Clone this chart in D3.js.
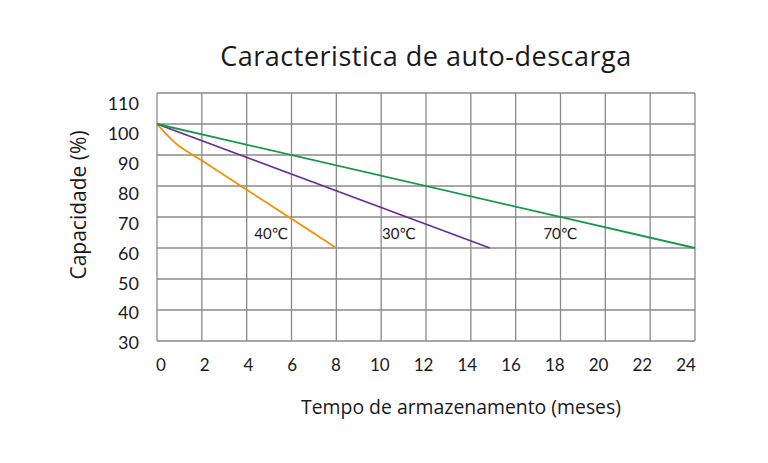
<!DOCTYPE html>
<html>
<head>
<meta charset="utf-8">
<script src="https://cdn.jsdelivr.net/npm/d3@7"></script>
<style>
    body { margin: 0; background: #fff; }
    text { font-family: "Lato", "DejaVu Sans", sans-serif; fill: #1a1a1a; }
    .title { font-family: "Open Sans", "DejaVu Sans", sans-serif; }
</style>
</head>
<body>
<div id="chart_container"></div>
<script>
// values
var xTicks = [0, 2, 4, 6, 8, 10, 12, 14, 16, 18, 20, 22, 24];
var yTicks = [30, 40, 50, 60, 70, 80, 90, 100, 110];

var months40 = [0, 0.25, 0.5, 1, 1.5, 2, 4, 6, 8];
var capacity40 = [100, 98, 96.1, 92.8, 90.5, 88.2, 78.8, 69.4, 60];
var months30 = [0, 14.85];
var capacity30 = [100, 60];
var months70 = [0, 24];
var capacity70 = [100, 60];

var seriesNames = ["40\u2103", "30\u2103", "70\u2103"];
var seriesColors = ["#f39200", "#6b2d8f", "#16984a"];
var labelMonths = [5.1, 10.8, 18.0];
var labelCapacity = [64.5, 64.5, 64.5];

function display_self_discharge() {
    var margin = {top: 93, right: 73, bottom: 122, left: 157},
        width = 768 - margin.left - margin.right,
        height = 463 - margin.top - margin.bottom;

    var x = d3.scaleLinear().domain([0, 24]).range([0, width]);
    var y = d3.scaleLinear().domain([30, 110]).range([height, 0]);
    // tick labels in the reference sit slightly inside the grid
    var xLab = d3.scaleLinear().domain([0, 24]).range([4, width - 9]);
    var yLab = d3.scaleLinear().domain([30, 110]).range([height + 2, 11]);

    var root = d3.select("#chart_container").append("svg")
        .attr("width", 768)
        .attr("height", 463);

    root.append("text")
        .attr("class", "title")
        .attr("x", 426)
        .attr("y", 66)
        .attr("text-anchor", "middle")
        .style("font-size", "27px")
        .style("letter-spacing", "0.5px")
        .text("Caracteristica de auto-descarga");

    var svg = root.append("g")
        .attr("transform", "translate(" + margin.left + "," + margin.top + ")");

    // grid
    svg.append("g")
        .selectAll("line")
        .data(xTicks)
        .enter().append("line")
        .attr("x1", function (d) { return x(d); })
        .attr("x2", function (d) { return x(d); })
        .attr("y1", 0)
        .attr("y2", height)
        .attr("stroke", "#8a8a8a")
        .attr("stroke-width", 1.3);

    svg.append("g")
        .selectAll("line")
        .data(yTicks)
        .enter().append("line")
        .attr("x1", 0)
        .attr("x2", width)
        .attr("y1", function (d) { return y(d); })
        .attr("y2", function (d) { return y(d); })
        .attr("stroke", "#8a8a8a")
        .attr("stroke-width", 1.3);

    // tick labels
    svg.append("g")
        .selectAll("text")
        .data(xTicks)
        .enter().append("text")
        .attr("x", function (d) { return xLab(d); })
        .attr("y", height + 30)
        .attr("text-anchor", "middle")
        .style("font-size", "17px")
        .text(function (d) { return d; });

    svg.append("g")
        .selectAll("text")
        .data(yTicks)
        .enter().append("text")
        .attr("x", -18)
        .attr("y", function (d) { return yLab(d); })
        .attr("dy", "0.35em")
        .attr("text-anchor", "end")
        .style("font-size", "18px")
        .text(function (d) { return d; });

    // axis titles
    svg.append("text")
        .attr("class", "title")
        .attr("x", 304)
        .attr("y", height + 73)
        .attr("text-anchor", "middle")
        .style("font-size", "19.4px")
        .text("Tempo de armazenamento (meses)");

    svg.append("text")
        .attr("class", "title")
        .attr("transform", "translate(-71," + (height / 2 - 12) + ") rotate(-90)")
        .attr("text-anchor", "middle")
        .style("font-size", "21px")
        .text("Capacidade (%)");

    // series
    var series = [
        {months: months40, cap: capacity40, curve: d3.curveMonotoneX},
        {months: months30, cap: capacity30, curve: d3.curveLinear},
        {months: months70, cap: capacity70, curve: d3.curveLinear}
    ];

    series.forEach(function (s, i) {
        var pts = s.months.map(function (m, j) { return [m, s.cap[j]]; });
        var line = d3.line()
            .x(function (d) { return x(d[0]); })
            .y(function (d) { return y(d[1]); })
            .curve(s.curve);
        svg.append("path")
            .datum(pts)
            .attr("fill", "none")
            .attr("stroke", seriesColors[i])
            .attr("stroke-width", 1.8)
            .attr("d", line);

        svg.append("text")
            .attr("x", x(labelMonths[i]))
            .attr("y", y(labelCapacity[i]))
            .attr("dy", "0.35em")
            .attr("text-anchor", "middle")
            .style("font-size", "15px")
            .text(seriesNames[i]);
    });
}

display_self_discharge();
</script>
</body>
</html>
